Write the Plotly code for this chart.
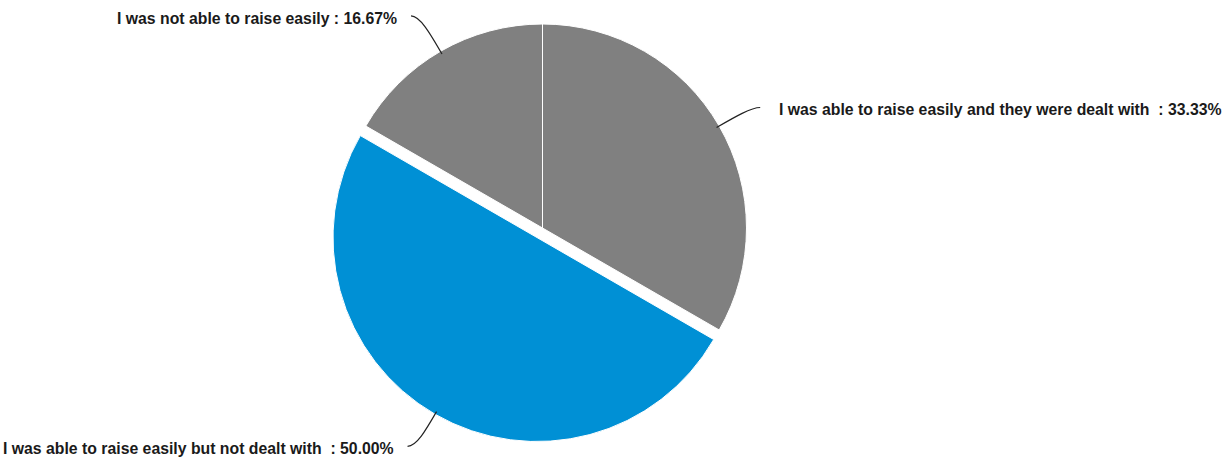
import math
import plotly.graph_objects as go

# ---- data ----
labels = [
    "I was able to raise easily and they were dealt with ",
    "I was able to raise easily but not dealt with ",
    "I was not able to raise easily",
]
values = [33.33, 50.00, 16.67]
colors = ["#808080", "#0090D5", "#808080"]
pulls = [0, 0.054, 0]

# ---- layout constants ----
W, H = 1231, 462
CX, CY = 542.5, 228.0          # pie centre in pixels
R = 204.0                       # radius in pixels
maxpull = max(pulls)
half = R * (1 + maxpull)        # half-size of the domain box
dom_x = [(CX - half) / W, (CX + half) / W]
dom_y = [1 - (CY + half) / H, 1 - (CY - half) / H]
leader_len = [40, 40, 44]

fig = go.Figure(go.Pie(
    labels=labels, values=values, sort=False, direction="clockwise", rotation=0,
    pull=pulls, textinfo="none", hoverinfo="label+percent",
    marker=dict(colors=colors, line=dict(color="white", width=1)),
    domain=dict(x=dom_x, y=dom_y), showlegend=False,
))

def px2paper(x, y):
    return x / W, 1 - y / H

total = sum(values)
cum = 0.0
font = dict(family="Liberation Sans, Arial, sans-serif", size=15.8, color="#1a1a1a", weight=700)
for lab, v, p, L in zip(labels, values, pulls, leader_len):
    mid = (cum + v / 2) / total * 2 * math.pi
    cum += v
    dx, dy = math.sin(mid), -math.cos(mid)
    ox, oy = CX + dx * p * R, CY + dy * p * R
    ax, ay = ox + dx * (R - 3), oy + dy * (R - 3)
    ex, ey = ax + dx * L, ay + dy * L
    sgn = 1 if dx > 0 else -1
    tx, ty = ex + sgn * 9, ey
    c1x, c1y = ax + dx * L * 0.55, ay + dy * L * 0.55
    pts = [px2paper(*q) for q in [(ax, ay), (c1x, c1y), (ex, ey), (tx, ty)]]
    path = "M {0[0]},{0[1]} C {1[0]},{1[1]} {2[0]},{2[1]} {3[0]},{3[1]}".format(*pts)
    fig.add_shape(type="path", path=path, xref="paper", yref="paper",
                  line=dict(color="#222222", width=1.2))
    txt = f"{lab} : {v / total * 100:.2f}%"
    gap = 17 if sgn > 0 else 12
    lx, ly = px2paper(tx + sgn * gap, ty + 2.5)
    fig.add_annotation(x=lx, y=ly, xref="paper", yref="paper", text=txt,
                       showarrow=False, xanchor="left" if sgn > 0 else "right",
                       yanchor="middle", font=font)

fig.update_layout(width=W, height=H, margin=dict(l=0, r=0, t=0, b=0),
                  paper_bgcolor="white", plot_bgcolor="white")
fig.write_html("out.html", config={"displayModeBar": False},
               post_script="document.body.style.margin='0';")
